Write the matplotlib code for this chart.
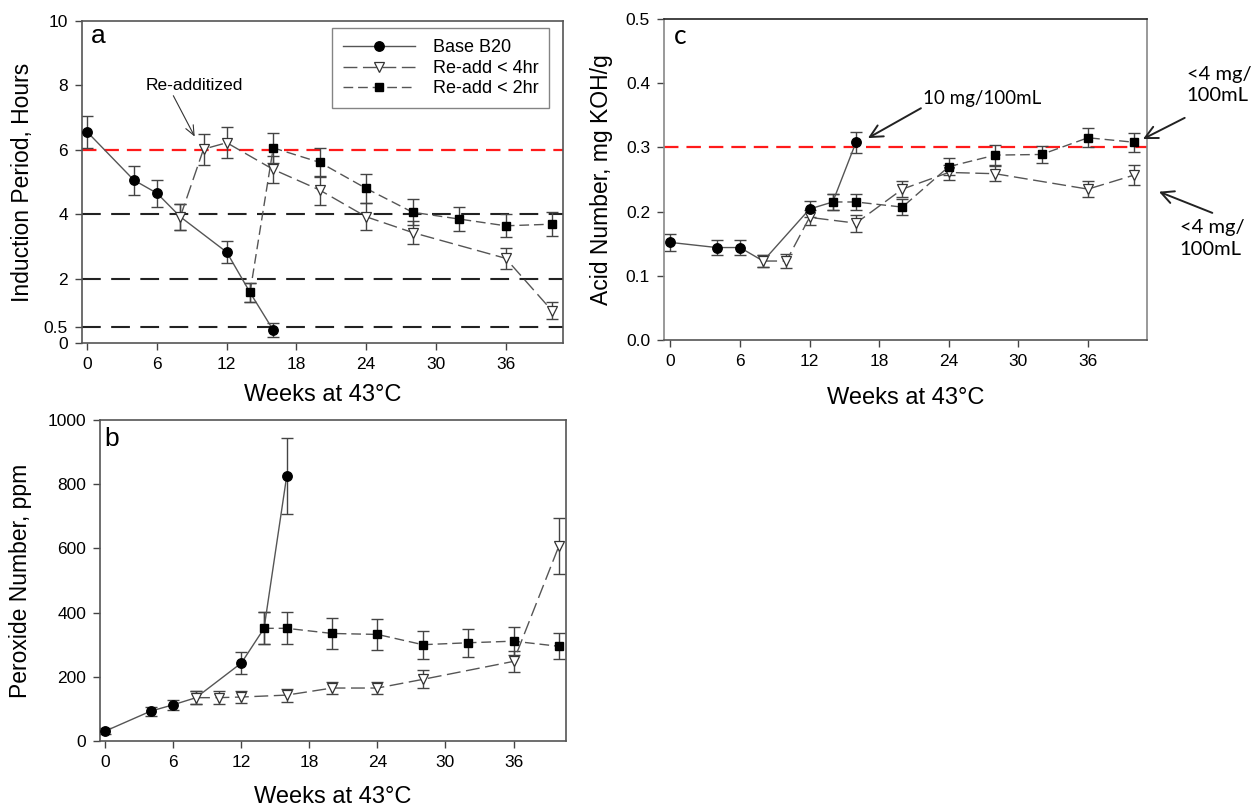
import matplotlib
matplotlib.use('Agg')
import matplotlib.pyplot as plt
from matplotlib.lines import Line2D

plt.rcParams['font.family'] = ['Liberation Sans', 'DejaVu Sans']

# ---------------- data ----------------
base_weeks = [0, 4, 6, 8, 12, 14, 16]
re4_weeks = [8, 10, 12, 16, 20, 24, 28, 36, 40]
re2_weeks = [14, 16, 20, 24, 28, 32, 36, 40]
shared_weeks = [8, 14]          # base points hidden under the re-add markers

series_labels = ['Base B20', 'Re-add < 4hr', 'Re-add < 2hr']

# (a) Induction period, hours
ip_base = [6.55, 5.06, 4.65, 3.92, 2.82, 1.57, 0.40]
ip_base_err = [0.50, 0.45, 0.42, 0.40, 0.34, 0.30, 0.22]
ip_re4 = [3.92, 6.02, 6.22, 5.39, 4.75, 3.92, 3.43, 2.63, 1.00]
ip_re4_err = [0.40, 0.48, 0.49, 0.42, 0.45, 0.42, 0.35, 0.33, 0.26]
ip_re2 = [1.57, 6.06, 5.61, 4.80, 4.06, 3.85, 3.64, 3.69]
ip_re2_err = [0.30, 0.47, 0.45, 0.45, 0.40, 0.37, 0.36, 0.37]
ip_limit = 6
ip_refs = [4, 2, 0.5]
ip_yticks = [0, 0.5, 2, 4, 6, 8, 10]
ip_yticklabels = ['0', '0.5', '2', '4', '6', '8', '10']

# (b) Peroxide number, ppm
pv_base = [31, 93, 113, 135, 243, 351, 826]
pv_base_err = [8, 14, 15, 20, 35, 50, 118]
pv_re4 = [135, 135, 137, 143, 165, 165, 192, 248, 607]
pv_re4_err = [20, 20, 20, 20, 20, 20, 28, 33, 87]
pv_re2 = [351, 351, 335, 332, 300, 306, 311, 295]
pv_re2_err = [50, 50, 47, 47, 43, 43, 43, 40]
pv_yticks = [0, 200, 400, 600, 800, 1000]

# (c) Acid number, mg KOH/g
ac_base = [0.152, 0.144, 0.144, 0.123, 0.204, 0.215, 0.308]
ac_base_err = [0.013, 0.012, 0.012, 0.010, 0.013, 0.013, 0.016]
ac_re4 = [0.123, 0.123, 0.191, 0.182, 0.235, 0.261, 0.259, 0.235, 0.257]
ac_re4_err = [0.010, 0.011, 0.012, 0.013, 0.013, 0.012, 0.012, 0.012, 0.015]
ac_re2 = [0.215, 0.215, 0.207, 0.270, 0.288, 0.289, 0.315, 0.308]
ac_re2_err = [0.013, 0.013, 0.012, 0.013, 0.015, 0.013, 0.015, 0.015]
ac_limit = 0.3
ac_yticks = [0.0, 0.1, 0.2, 0.3, 0.4, 0.5]

week_ticks = [0, 6, 12, 18, 24, 30, 36]
xlabel = 'Weeks at 43°C'

# ---------------- figure ----------------
W, H = 1260, 808
fig = plt.figure(figsize=(12.6, 8.08), dpi=100)


def px_axes(l, t, r, b):
    return fig.add_axes([l / W, 1 - b / H, (r - l) / W, (b - t) / H])


ax_a = px_axes(82, 21, 563, 343)
ax_c = px_axes(664, 19, 1147, 340)
ax_b = px_axes(100, 420, 566, 741)

LINE = '#555555'
EB = '#444444'
TRI_DASH = (10, 4)
SQ_DASH = (7, 3.5)
MS_C, MS_T, MS_S = 6.8, 7.5, 6.4


def style(ax):
    for s in ['left', 'bottom', 'top', 'right']:
        ax.spines[s].set_color('#555555')
        ax.spines[s].set_linewidth(1.2)
    ax.tick_params(direction='out', length=5, width=1, color='#444444',
                   labelsize=12.5, pad=5, top=False, right=False)


def draw(ax, x, y, err, kind):
    ax.errorbar(x, y, yerr=err, fmt='none', ecolor=EB, elinewidth=1,
                capsize=4.3, capthick=1, zorder=2)
    if kind == 'base':
        ax.plot(x, y, color=LINE, lw=1, zorder=2.5)
        xs = [a for a in x if a not in shared_weeks]
        ys = [b for a, b in zip(x, y) if a not in shared_weeks]
        ax.plot(xs, ys, ls='none', marker='o', mfc='black', mec='black',
                ms=MS_C, zorder=4)
    elif kind == 're4':
        ln, = ax.plot(x, y, color=LINE, lw=1, marker='v', mfc='white',
                      mec='#333333', mew=0.9, ms=MS_T, zorder=3)
        ln.set_dashes(TRI_DASH)
    else:
        ln, = ax.plot(x, y, color=LINE, lw=1, marker='s', mfc='black',
                      mec='black', ms=MS_S, zorder=5)
        ln.set_dashes(SQ_DASH)


# ---------- panel a ----------
ax = ax_a
style(ax)
ax.axhline(ip_limit, color='#ff1a1a', lw=1.6, dashes=(6.5, 3.6), zorder=1)
for r in ip_refs:
    ax.axhline(r, color='#222222', lw=1.5, dashes=(9, 5), zorder=1)
draw(ax, base_weeks, ip_base, ip_base_err, 'base')
draw(ax, re4_weeks, ip_re4, ip_re4_err, 're4')
draw(ax, re2_weeks, ip_re2, ip_re2_err, 're2')
ax.set_xlim(-0.46, 40.94)
ax.set_ylim(0, 10)
ax.set_xticks(week_ticks)
ax.set_yticks(ip_yticks)
ax.set_yticklabels(ip_yticklabels)
ax.set_ylabel('Induction Period, Hours', fontsize=16.5, va='center')
ax.yaxis.set_label_coords(-0.124, 0.5)
ax.set_xlabel(xlabel, fontsize=17, va='center')
ax.xaxis.set_label_coords(0.5, -0.16)
ax.text(0.033, 0.953, 'a', transform=ax.transAxes, fontsize=19,
        ha='center', va='center')
ax.text(9.18, 7.99, 'Re-additized', fontsize=12.5, ha='center', va='center')
ax.annotate('', xy=(9.24, 6.41), xytext=(7.40, 7.68),
            arrowprops=dict(arrowstyle='->,head_length=0.7,head_width=0.3',
                            lw=0.8, color='#333333', shrinkA=0, shrinkB=0))
h1 = Line2D([], [], color=LINE, lw=1, marker='o', mfc='black', mec='black', ms=MS_C)
h2 = Line2D([], [], color=LINE, lw=1, dashes=TRI_DASH, marker='v', mfc='white',
            mec='#333333', mew=0.9, ms=MS_T)
h3 = Line2D([], [], color=LINE, lw=1, dashes=SQ_DASH, marker='s', mfc='black',
            mec='black', ms=MS_S)
leg = ax.legend([h1, h2, h3], series_labels, loc='upper right',
                bbox_to_anchor=(0.9715, 0.977), fontsize=13, frameon=True,
                fancybox=False, edgecolor='#666666', handlelength=4,
                handletextpad=1.0, labelspacing=0.2, borderpad=0.6,
                borderaxespad=0)
leg.get_frame().set_linewidth(1)

# ---------- panel c ----------
ax = ax_c
style(ax)
ax.spines['left'].set_color('#888888')
ax.spines['right'].set_color('#888888')
ax.spines['top'].set_color('#222222')
ax.axhline(ac_limit, color='#ff1a1a', lw=1.6, dashes=(6.5, 3.6), zorder=1)
draw(ax, base_weeks, ac_base, ac_base_err, 'base')
draw(ax, re4_weeks, ac_re4, ac_re4_err, 're4')
draw(ax, re2_weeks, ac_re2, ac_re2_err, 're2')
ax.set_xlim(-0.55, 41.09)
ax.set_ylim(0, 0.5)
ax.set_xticks(week_ticks)
ax.set_yticks(ac_yticks)
ax.set_yticklabels([f'{v:.1f}' for v in ac_yticks])
ax.set_ylabel('Acid Number, mg KOH/g', fontsize=16.5, va='center')
ax.yaxis.set_label_coords(-0.13, 0.5)
ax.set_xlabel(xlabel, fontsize=17, va='center')
ax.xaxis.set_label_coords(0.5, -0.18)
ax.text(0.0325, 0.944, 'c', transform=ax.transAxes, fontsize=19,
        family=['Lato', 'DejaVu Sans'], ha='center', va='center')
ann_font = ['Lato', 'DejaVu Sans']
arw = dict(arrowstyle='->,head_length=0.9,head_width=0.45', lw=1.4,
           color='#222222', shrinkA=0, shrinkB=0)
ax.text(21.75, 0.3755, '10 mg/100mL', fontsize=13.5, family=ann_font,
        ha='left', va='center')
ax.annotate('', xy=(17.03, 0.3145), xytext=(21.6, 0.361), arrowprops=arw)
ax.text(44.5, 0.397, '<4 mg/\n100mL', fontsize=14.5, family=ann_font,
        ha='left', va='center', linespacing=1.3)
ax.annotate('', xy=(40.74, 0.313), xytext=(44.34, 0.346), arrowprops=arw,
            annotation_clip=False)
ax.text(43.9, 0.158, '<4 mg/\n100mL', fontsize=14.5, family=ann_font,
        ha='left', va='center', linespacing=1.3)
ax.annotate('', xy=(42.12, 0.231), xytext=(46.72, 0.198), arrowprops=arw,
            annotation_clip=False)

# ---------- panel b ----------
ax = ax_b
style(ax)
draw(ax, base_weeks, pv_base, pv_base_err, 'base')
draw(ax, re4_weeks, pv_re4, pv_re4_err, 're4')
draw(ax, re2_weeks, pv_re2, pv_re2_err, 're2')
ax.set_xlim(-0.47, 40.63)
ax.set_ylim(0, 1000)
ax.set_xticks(week_ticks)
ax.set_yticks(pv_yticks)
ax.set_ylabel('Peroxide Number, ppm', fontsize=16.5, va='center')
ax.yaxis.set_label_coords(-0.17, 0.5)
ax.set_xlabel(xlabel, fontsize=17, va='center')
ax.xaxis.set_label_coords(0.5, -0.175)
ax.text(0.025, 0.94, 'b', transform=ax.transAxes, fontsize=19,
        ha='center', va='center')

fig.savefig('out.png', dpi=100, facecolor='white')
